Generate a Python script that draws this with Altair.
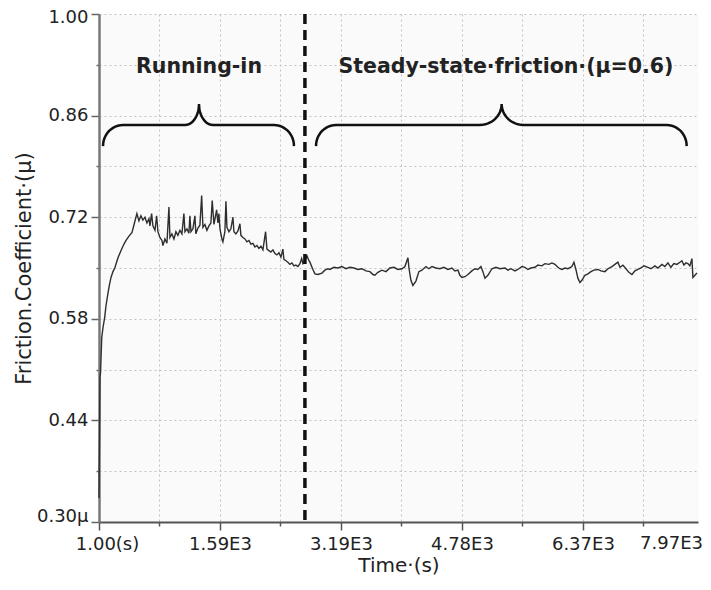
import math
import altair as alt
import pandas as pd

# ---------------- data ----------------
time_s = [
    1, 14, 21, 37, 54, 76, 93, 119, 139, 159, 185, 212, 251, 291, 330, 357, 396, 436, 468,
    500, 527, 553, 579, 606, 632, 659, 672, 694, 711, 738, 760, 777, 803, 830, 843, 869, 896,
    922, 935, 961, 988, 1014, 1040, 1067, 1093, 1119, 1133, 1159, 1185, 1198, 1212, 1238,
    1264, 1277, 1304, 1330, 1353, 1370, 1396, 1422, 1449, 1475, 1492, 1515, 1550, 1567,
    1580, 1594, 1620, 1633, 1659, 1673, 1686, 1712, 1738, 1765, 1778, 1804, 1831, 1857,
    1870, 1896, 1923, 1949, 1976, 2002, 2028, 2055, 2081, 2107, 2134, 2160, 2195, 2213,
    2239, 2265, 2292, 2318, 2344, 2371, 2397, 2423, 2436, 2463, 2489, 2515, 2542, 2568,
    2594, 2621, 2647, 2670, 2687, 2713, 2739, 2766, 2779, 2818, 2845, 2884, 2937, 2976, 3016,
    3042, 3095, 3148, 3200, 3253, 3306, 3358, 3411, 3464, 3516, 3569, 3609, 3635, 3674,
    3727, 3780, 3832, 3885, 3938, 3991, 4030, 4070, 4083, 4109, 4135, 4175, 4214, 4254,
    4307, 4346, 4386, 4438, 4491, 4544, 4596, 4649, 4689, 4728, 4754, 4781, 4820, 4860,
    4912, 4952, 4991, 5031, 5057, 5084, 5123, 5176, 5228, 5281, 5347, 5387, 5426, 5479,
    5518, 5571, 5610, 5650, 5689, 5742, 5782, 5834, 5874, 5927, 5966, 6006, 6045, 6071,
    6098, 6137, 6177, 6229, 6256, 6282, 6308, 6335, 6361, 6401, 6440, 6480, 6519, 6572,
    6611, 6664, 6704, 6756, 6796, 6835, 6862, 6901, 6941, 6980, 7020, 7059, 7099, 7138,
    7178, 7230, 7270, 7323, 7362, 7415, 7454, 7494, 7533, 7573, 7612, 7652, 7678, 7704,
    7731, 7757, 7783, 7810, 7823, 7849, 7876,
]
friction = [
    0.333, 0.500, 0.505, 0.554, 0.568, 0.582, 0.598, 0.615, 0.627, 0.637, 0.645, 0.651, 0.664,
    0.674, 0.683, 0.688, 0.694, 0.699, 0.712,
    0.725, 0.715, 0.722, 0.716, 0.720, 0.712, 0.718, 0.708, 0.725, 0.708, 0.702, 0.722, 0.700,
    0.692, 0.688, 0.681, 0.690, 0.684, 0.734, 0.692, 0.697, 0.690, 0.700, 0.695, 0.702, 0.697,
    0.725, 0.700, 0.704, 0.698, 0.722, 0.700, 0.704, 0.722, 0.697, 0.705, 0.709, 0.750, 0.706,
    0.710, 0.702, 0.708, 0.712, 0.743, 0.710, 0.730, 0.712, 0.725, 0.704, 0.690, 0.686, 0.700,
    0.742, 0.706, 0.700, 0.704, 0.720, 0.700, 0.697, 0.701, 0.711, 0.695, 0.692, 0.690, 0.686,
    0.688, 0.683, 0.684, 0.679, 0.681, 0.677, 0.680, 0.675, 0.700, 0.676, 0.674, 0.672, 0.675,
    0.670, 0.668, 0.671, 0.665, 0.676, 0.662, 0.660, 0.658, 0.655, 0.657, 0.653, 0.654, 0.652,
    0.656, 0.663, 0.656, 0.660, 0.667, 0.660, 0.658, 0.648, 0.642, 0.641, 0.643, 0.647, 0.649,
    0.648, 0.651, 0.650, 0.652, 0.649, 0.651, 0.650, 0.648, 0.649, 0.646, 0.645, 0.641, 0.640,
    0.644, 0.647, 0.645, 0.650, 0.651, 0.648, 0.649, 0.652, 0.664, 0.650, 0.633, 0.626, 0.632,
    0.645, 0.647, 0.652, 0.649, 0.652, 0.650, 0.649, 0.651, 0.648, 0.650, 0.646, 0.647, 0.640,
    0.637, 0.638, 0.641, 0.646, 0.649, 0.648, 0.652, 0.645, 0.636, 0.640, 0.649, 0.651, 0.649,
    0.650, 0.647, 0.649, 0.646, 0.648, 0.652, 0.651, 0.648, 0.650, 0.651, 0.654, 0.653, 0.656,
    0.655, 0.657, 0.655, 0.651, 0.649, 0.648, 0.650, 0.649, 0.652, 0.658, 0.648, 0.636, 0.630,
    0.633, 0.640, 0.642, 0.645, 0.647, 0.648, 0.646, 0.645, 0.649, 0.652, 0.655, 0.658, 0.651,
    0.654, 0.649, 0.644, 0.641, 0.646, 0.648, 0.650, 0.653, 0.651, 0.649, 0.653, 0.650, 0.655,
    0.652, 0.657, 0.651, 0.656, 0.655, 0.658, 0.660, 0.654, 0.657, 0.656, 0.653, 0.663, 0.637,
    0.640, 0.643,
]

x_domain = [1, 7890]
y_domain = [0.30, 1.00]
x_grid_values = [1, 797, 1594, 2390, 3187, 3984, 4781, 5577, 6374, 7171]
x_major_values = [1, 1594, 3187, 4781, 6374]
x_major_labels = ["1.00(s)", "1.59E3", "3.19E3", "4.78E3", "6.37E3"]
x_last_label = ["7.97E3"]
y_grid_values = [0.30, 0.37, 0.44, 0.51, 0.58, 0.65, 0.72, 0.79, 0.86, 0.93, 1.00]
y_major_values = [0.30, 0.44, 0.58, 0.72, 0.86, 1.00]
y_major_labels = ["0.30μ", "0.44", "0.58", "0.72", "0.86", "1.00"]

phase_boundary = [2713]

annotation_text = ["Running-in", "Steady-state·friction·(μ=0.6)"]
annotation_t = [1318, 5361]
annotation_mu = [0.919, 0.919]

brace_start = [54, 2859]
brace_end = [2569, 7741]
brace_tip = [1318, 5304]
brace_corner = [263, 263]
brace_mid = [184, 290]
brace_mu_end = 0.818
brace_mu_bar = 0.847
brace_mu_tip = 0.876

# ---------------- tables ----------------
df = pd.DataFrame({"t": time_s, "mu": friction})

brace_rows = []
n = 12
for b in range(len(brace_start)):
    t0, t1, tm = brace_start[b], brace_end[b], brace_tip[b]
    c, m = brace_corner[b], brace_mid[b]
    d1 = brace_mu_bar - brace_mu_end
    d2 = brace_mu_tip - brace_mu_bar
    pts = []
    for k in range(n + 1):
        th = math.pi / 2 * k / n
        pts.append((t0 + c * (1 - math.cos(th)), brace_mu_end + d1 * math.sin(th)))
    for k in range(n + 1):
        th = math.pi / 2 * k / n
        pts.append((tm - m + m * math.sin(th), brace_mu_tip - d2 * math.cos(th)))
    for k in range(n + 1):
        th = math.pi / 2 * k / n
        pts.append((tm + m - m * math.cos(th), brace_mu_tip - d2 * math.sin(th)))
    for k in range(n + 1):
        th = math.pi / 2 * k / n
        pts.append((t1 - c + c * math.sin(th), brace_mu_end + d1 * math.cos(th)))
    for i, (tt, mm) in enumerate(pts):
        brace_rows.append({"t": tt, "mu": mm, "brace": b, "i": i})
braces_df = pd.DataFrame(brace_rows)

ann_df = pd.DataFrame({"t": annotation_t, "mu": annotation_mu, "label": annotation_text})
bound_df = pd.DataFrame({"t": phase_boundary})
last_df = pd.DataFrame({"t": [x_domain[1]], "mu": [y_domain[0]], "label": x_last_label})

# ---------------- axes ----------------
FONT = "DejaVu Sans"
x_major_js = "[" + ",".join(str(v) for v in x_major_values) + "]"
x_labels_js = "[" + ",".join("'" + s + "'" for s in x_major_labels) + "]"
y_major_js = "[" + ",".join(repr(v) for v in y_major_values) + "]"
y_labels_js = "[" + ",".join("'" + s + "'" for s in y_major_labels) + "]"

x_is_major = f"indexof({x_major_js}, datum.value) >= 0"
y_is_major = f"indexof({y_major_js}, datum.value) >= 0"

x_axis = alt.Axis(
    values=x_grid_values,
    labelExpr=f"{x_is_major} ? {x_labels_js}[indexof({x_major_js}, datum.value)] : ''",
    labelOverlap=False,
    labelFlush=False,
    labelFont=FONT,
    labelFontSize=18,
    labelColor="#222222",
    labelPadding=5,
    labelOffset={"condition": {"test": "datum.value == 1", "value": 8}, "value": 0},
    tickSize={"condition": {"test": x_is_major, "value": 8}, "value": 4},
    tickColor="#555555",
    tickWidth=1.5,
    domainColor="#555555",
    domainWidth=2,
    grid=True,
    gridColor="#c2c2c2",
    gridDash=[2, 3],
    gridWidth=1,
    titleFont=FONT,
    titleFontSize=20,
    titleFontWeight="normal",
    titleColor="#222222",
    titlePadding=2,
)

y_axis = alt.Axis(
    values=y_grid_values,
    labelExpr=f"{y_is_major} ? {y_labels_js}[indexof({y_major_js}, datum.value)] : ''",
    labelOverlap=False,
    labelFlush=False,
    labelFont=FONT,
    labelFontSize=18,
    labelColor="#222222",
    labelPadding=3,
    labelOffset={
        "condition": [
            {"test": "datum.value == 0.3", "value": -6},
            {"test": "datum.value == 1", "value": 3},
        ],
        "value": 0,
    },
    tickSize={"condition": {"test": y_is_major, "value": 8}, "value": 3},
    tickColor="#666666",
    tickWidth=1.5,
    domainColor="#777777",
    domainWidth=2.5,
    grid=True,
    gridColor="#c2c2c2",
    gridDash=[2, 3],
    gridWidth=1,
    titleFont=FONT,
    titleFontSize=21,
    titleFontWeight="normal",
    titleColor="#222222",
    titlePadding=2,
)

x_scale = alt.Scale(domain=x_domain, nice=False, zero=False)
y_scale = alt.Scale(domain=y_domain, nice=False, zero=False)

line = alt.Chart(df).mark_line(color="#2e2e2e", strokeWidth=1.4).encode(
    x=alt.X("t:Q", scale=x_scale, axis=x_axis, title="Time·(s)"),
    y=alt.Y("mu:Q", scale=y_scale, axis=y_axis, title="Friction.Coefficient·(μ)"),
)

boundary = alt.Chart(bound_df).mark_rule(
    color="#111111", strokeWidth=3.5, strokeDash=[10, 6]
).encode(x="t:Q")

braces = alt.Chart(braces_df).mark_line(color="#111111", strokeWidth=2.5).encode(
    x="t:Q", y="mu:Q", detail="brace:N", order="i:Q"
)

annotations = alt.Chart(ann_df).mark_text(
    font=FONT, fontSize=20.5, fontWeight="bold", color="#222222",
    align="center", baseline="alphabetic",
).encode(x="t:Q", y="mu:Q", text="label:N")

last_label = alt.Chart(last_df).mark_text(
    font=FONT, fontSize=18, color="#222222", align="right", baseline="top",
    dy=13, dx=5,
).encode(x="t:Q", y="mu:Q", text="label:N")

chart = alt.layer(line, boundary, braces, annotations, last_label).properties(
    width=599,
    height=508,
    autosize=alt.AutoSizeParams(type="none"),
    padding={"left": 91, "top": 6, "right": 5, "bottom": 55},
    background="white",
).configure_view(fill="#fafafa", stroke="transparent")

chart.save("out.html", embed_options={"renderer": "svg", "actions": False})
